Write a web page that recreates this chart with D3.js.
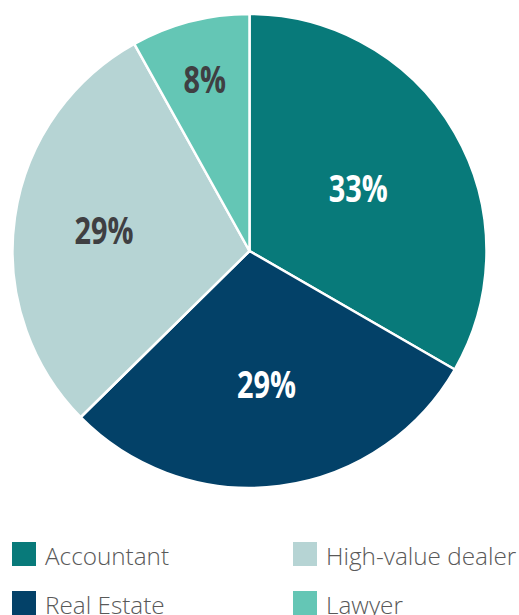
<!DOCTYPE html>
<html>
<head>
<meta charset="utf-8">
<script src="https://cdn.jsdelivr.net/npm/d3@7"></script>
<style>
  html, body { margin: 0; padding: 0; background: #fff; }
  #chart { width: 519px; height: 615px; overflow: hidden; }
</style>
</head>
<body>
<div id="chart"></div>
<script>
// chart data
const categories = ['Accountant', 'Real Estate', 'High-value dealer', 'Lawyer'];
const shares = [33, 29, 29, 8];
const colors = ['#087a7a', '#034168', '#b6d4d4', '#64c6b5'];
const labelColors = ['#ffffff', '#ffffff', '#3f3f42', '#3f3f42'];
const legendOrder = ['Accountant', 'High-value dealer', 'Real Estate', 'Lawyer'];

(function() {
    const width = 519, height = 615;
    const cx = 249.5, cy = 251, radius = 237;
    // label distance from centre, as a share of the radius
    const labelDist = [0.53, 0.565, 0.62, 0.75];

    const svg = d3.select('#chart').append('svg')
        .attr('width', width)
        .attr('height', height);

    const g = svg.append('g')
        .attr('transform', `translate(${cx},${cy})`);

    const pie = d3.pie().sort(null).value(d => d);
    const arcs = pie(shares);

    const arc = d3.arc().innerRadius(0).outerRadius(radius);

    g.selectAll('path.slice')
        .data(arcs)
        .enter()
        .append('path')
        .attr('class', 'slice')
        .attr('d', arc)
        .attr('fill', (d, i) => colors[i])
        .attr('stroke', '#fff')
        .attr('stroke-width', 2.5)
        .attr('stroke-linejoin', 'round');

    // condensed bold look: squeeze a bold face horizontally
    g.selectAll('text.pct')
        .data(arcs)
        .enter()
        .append('text')
        .attr('class', 'pct')
        .attr('transform', (d, i) => {
            const r = radius * labelDist[i];
            const a = (d.startAngle + d.endAngle) / 2;
            return `translate(${Math.sin(a) * r},${-Math.cos(a) * r}) scale(0.76,1)`;
        })
        .attr('text-anchor', 'middle')
        .attr('dy', '0.36em')
        .attr('font-family', '"Open Sans", sans-serif')
        .attr('font-weight', 700)
        .attr('font-size', '38px')
        .attr('fill', (d, i) => labelColors[i])
        .text(d => d.data + '%');

    // Legend, two columns
    const legend = svg.append('g');
    legendOrder.forEach(function(name, i) {
        const col = i % 2, row = Math.floor(i / 2);
        const lg = legend.append('g')
            .attr('transform', `translate(${12 + col * 281},${542 + row * 49})`);
        lg.append('rect')
            .attr('width', 24)
            .attr('height', 24)
            .attr('fill', colors[categories.indexOf(name)]);
        lg.append('text')
            .attr('x', 33)
            .attr('y', 23)
            .attr('font-family', '"Open Sans", sans-serif')
            .attr('font-weight', 300)
            .attr('font-size', '24.3px')
            .attr('fill', '#595959')
            .text(name);
    });
})();
</script>
</body>
</html>
